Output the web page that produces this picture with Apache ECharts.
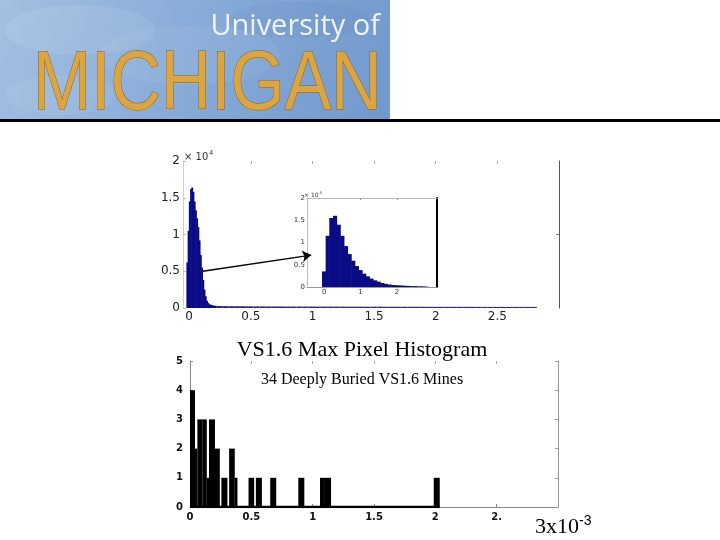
<!DOCTYPE html>
<html>
<head>
<meta charset="utf-8">
<script src="https://cdn.jsdelivr.net/npm/echarts@6/dist/echarts.min.js"></script>
<style>
html,body{margin:0;padding:0;background:#fff;}
#chart{width:720px;height:540px;}
</style>
</head>
<body>
<div id="chart"></div>
<script>
// ---------- DATA ----------
// Main histogram (x in units of 1e-3, counts in units of 1e4)
var mainPeakStart = -0.02;
var mainPeakWidth = 0.01;
var mainPeakCounts = [0.62, 1.05, 1.45, 1.62, 1.64, 1.58, 1.45, 1.33, 1.22, 1.10, 0.92, 0.72, 0.55, 0.38, 0.25, 0.16, 0.10, 0.07, 0.05, 0.045, 0.04, 0.035, 0.03, 0.03];
var mainTailStart = 0.22;
var mainTailWidth = 0.05;
var mainTailCounts = [0.028, 0.026, 0.025, 0.024, 0.024, 0.023, 0.022, 0.022, 0.021, 0.021,
                      0.021, 0.020, 0.020, 0.020, 0.020, 0.020, 0.019, 0.019, 0.019, 0.019,
                      0.019, 0.018, 0.018, 0.018, 0.018, 0.018, 0.018, 0.017, 0.017, 0.017,
                      0.017, 0.017, 0.017, 0.017, 0.016, 0.016, 0.016, 0.016, 0.016, 0.016,
                      0.016, 0.016, 0.015, 0.015, 0.015, 0.015, 0.015, 0.015, 0.015, 0.015,
                      0.015, 0.015];
var mainTickValues = [0, 0.5, 1, 1.5, 2, 2.5];

// Inset histogram (zoomed view, x in units of 1e-4)
var insetBinStart = -0.05;
var insetBinWidth = 0.1;
var insetCounts = [0.35, 1.15, 1.55, 1.60, 1.40, 1.15, 0.92, 0.74, 0.59, 0.47,
                   0.38, 0.30, 0.24, 0.19, 0.15, 0.12, 0.09, 0.07, 0.055, 0.045,
                   0.04, 0.035, 0.03, 0.025, 0.02, 0.02, 0.015, 0.015, 0.01];
var insetTickValues = [0, 1, 2];

// Arrow annotation (main axes coordinates)
var arrowFrom = [0.11, 0.50];
var arrowTo = [0.99, 0.72];

// Bottom histogram: 34 deeply buried VS1.6 mines (x in units of 1e-3)
var mineBinLeft  = [0.000, 0.041, 0.060, 0.100, 0.137, 0.155, 0.204, 0.256, 0.319, 0.365, 0.477, 0.537, 0.654, 0.883, 1.060, 1.100, 1.987];
var mineBinRight = [0.041, 0.060, 0.100, 0.137, 0.155, 0.204, 0.243, 0.305, 0.365, 0.387, 0.523, 0.586, 0.703, 0.932, 1.100, 1.150, 2.036];
var mineCounts   = [4, 2, 3, 3, 1, 3, 2, 1, 2, 1, 1, 1, 1, 1, 1, 1, 1];
var mineTickValues = [0, 0.5, 1, 1.5, 2, 2.5];
var mineTickLabels = ['0', '0.5', '1', '1.5', '2', '2.'];

// ---------- BUILD ----------
function binsFrom(start, width, counts) {
  var out = [];
  for (var i = 0; i < counts.length; i++) {
    out.push([start + i * width, start + (i + 1) * width, counts[i]]);
  }
  return out;
}
function edgesFrom(lefts, rights, counts) {
  var out = [];
  for (var i = 0; i < counts.length; i++) out.push([lefts[i], rights[i], counts[i]]);
  return out;
}
function barRenderer(color, pad) {
  return function (params, api) {
    var p0 = api.coord([api.value(0), api.value(2)]);
    var p1 = api.coord([api.value(1), 0]);
    return {
      type: 'rect',
      shape: { x: p0[0] - pad, y: p0[1], width: p1[0] - p0[0] + 2 * pad, height: p1[1] - p0[1] },
      style: { fill: color }
    };
  };
}

var navy = '#0b0b86';
var chart = echarts.init(document.getElementById('chart'));
var axisFont = 'DejaVu Sans';

var option = {
  backgroundColor: '#ffffff',
  animation: false,
  grid: [
    { left: 183, top: 161, width: 376, height: 147 },
    { left: 307, top: 198, width: 130, height: 89, show: true, backgroundColor: '#ffffff', borderWidth: 0, z: 3 },
    { left: 190, top: 361, width: 368, height: 146 }
  ],
  xAxis: [
    { gridIndex: 0, type: 'value', min: -0.05, max: 3, position: 'bottom',
      axisLine: { show: false, onZero: false }, axisTick: { show: false }, splitLine: { show: false },
      axisLabel: { customValues: mainTickValues, fontSize: 12, color: '#222', margin: 3, fontFamily: axisFont } },
    { gridIndex: 0, type: 'value', min: -0.05, max: 3, position: 'top',
      axisLine: { show: false, onZero: false }, splitLine: { show: false }, axisLabel: { show: false },
      axisTick: { show: true, inside: true, length: 3, customValues: [0.5, 1, 1.5, 2, 2.5], lineStyle: { color: '#aaa' } } },
    { gridIndex: 1, type: 'value', min: -0.47, max: 3.1, position: 'bottom', z: 4,
      axisLine: { show: true, onZero: false, lineStyle: { color: '#999' } }, axisTick: { show: false }, splitLine: { show: false },
      axisLabel: { customValues: insetTickValues, fontSize: 7, color: '#333', margin: 2, fontFamily: axisFont } },
    { gridIndex: 1, type: 'value', min: -0.47, max: 3.1, position: 'top', z: 4,
      axisLine: { show: true, onZero: false, lineStyle: { color: '#bbb' } }, splitLine: { show: false }, axisLabel: { show: false },
      axisTick: { show: true, inside: true, length: 2, customValues: [1, 2], lineStyle: { color: '#999' } } },
    { gridIndex: 2, type: 'value', min: 0, max: 3, position: 'bottom',
      axisLine: { show: true, onZero: false, lineStyle: { color: '#888' } }, splitLine: { show: false },
      axisTick: { show: true, inside: true, length: 3, customValues: mineTickValues, lineStyle: { color: '#888' } },
      axisLabel: { customValues: mineTickValues, fontSize: 10, fontWeight: 'bold', color: '#111', margin: 5, fontFamily: axisFont,
        formatter: function (v) { var i = mineTickValues.indexOf(v); return i >= 0 ? mineTickLabels[i] : ''; } } },
    { gridIndex: 2, type: 'value', min: 0, max: 3, position: 'top',
      axisLine: { show: false, onZero: false }, splitLine: { show: false }, axisLabel: { show: false },
      axisTick: { show: true, inside: true, length: 3, customValues: [0.5, 1, 1.5, 2, 2.5], lineStyle: { color: '#aaa' } } }
  ],
  yAxis: [
    { gridIndex: 0, type: 'value', min: 0, max: 2, interval: 0.5, position: 'left',
      axisLine: { show: true, onZero: false, lineStyle: { color: '#d0d0d0' } }, splitLine: { show: false },
      axisTick: { show: true, inside: true, length: 3, lineStyle: { color: '#bbb' } },
      axisLabel: { fontSize: 12, color: '#222', margin: 3, fontFamily: axisFont } },
    { gridIndex: 0, type: 'value', min: 0, max: 2, interval: 0.5, position: 'right',
      axisLine: { show: true, onZero: false, lineStyle: { color: '#555' } }, splitLine: { show: false }, axisLabel: { show: false },
      axisTick: { show: true, inside: true, length: 3, customValues: [1], lineStyle: { color: '#777' } } },
    { gridIndex: 1, type: 'value', min: 0, max: 2, interval: 0.5, position: 'left', z: 4,
      axisLine: { show: true, onZero: false, lineStyle: { color: '#bbb' } }, splitLine: { show: false }, axisTick: { show: false },
      axisLabel: { fontSize: 7, color: '#333', margin: 2, fontFamily: axisFont } },
    { gridIndex: 1, type: 'value', min: 0, max: 2, position: 'right', z: 4,
      axisLine: { show: true, onZero: false, lineStyle: { color: '#000', width: 2 } }, splitLine: { show: false },
      axisTick: { show: false }, axisLabel: { show: false } },
    { gridIndex: 2, type: 'value', min: 0, max: 5, interval: 1, position: 'left',
      axisLine: { show: true, onZero: false, lineStyle: { color: '#888' } }, splitLine: { show: false },
      axisTick: { show: true, inside: true, length: 3, lineStyle: { color: '#888' } },
      axisLabel: { fontSize: 10, fontWeight: 'bold', color: '#111', margin: 7, fontFamily: axisFont } },
    { gridIndex: 2, type: 'value', min: 0, max: 5, interval: 1, position: 'right',
      axisLine: { show: true, onZero: false, lineStyle: { color: '#999' } }, splitLine: { show: false }, axisLabel: { show: false },
      axisTick: { show: true, inside: true, length: 3, lineStyle: { color: '#999' } } }
  ],
  series: [
    { type: 'custom', xAxisIndex: 0, yAxisIndex: 0, renderItem: barRenderer(navy, 0.3),
      encode: { x: [0, 1], y: 2 }, data: binsFrom(mainPeakStart, mainPeakWidth, mainPeakCounts) },
    { type: 'custom', xAxisIndex: 0, yAxisIndex: 0, renderItem: barRenderer('#2a2a8c', 0),
      encode: { x: [0, 1], y: 2 }, data: binsFrom(mainTailStart, mainTailWidth, mainTailCounts) },
    { type: 'custom', xAxisIndex: 2, yAxisIndex: 2, z: 5, renderItem: barRenderer(navy, 0.3),
      encode: { x: [0, 1], y: 2 }, data: binsFrom(insetBinStart, insetBinWidth, insetCounts) },
    { type: 'lines', coordinateSystem: 'cartesian2d', xAxisIndex: 0, yAxisIndex: 0, z: 10,
      symbol: ['none', 'arrow'], symbolSize: 9,
      lineStyle: { color: '#000', width: 1.3, opacity: 1, curveness: 0 },
      data: [{ coords: [arrowFrom, arrowTo] }] },
    { type: 'line', xAxisIndex: 4, yAxisIndex: 4, symbol: 'none', z: 3,
      lineStyle: { color: '#000', width: 2.5 },
      data: [[mineBinLeft[0], 0], [mineBinRight[mineBinRight.length - 1], 0]] },
    { type: 'custom', xAxisIndex: 4, yAxisIndex: 4, renderItem: barRenderer('#000', 0),
      encode: { x: [0, 1], y: 2 }, data: edgesFrom(mineBinLeft, mineBinRight, mineCounts) }
  ],
  graphic: [
    // logo background
    { type: 'rect', shape: { x: 0, y: 0, width: 390, height: 119 }, z: 1,
      style: { fill: { type: 'linear', x: 0, y: 0, x2: 1, y2: 1, colorStops: [
        { offset: 0, color: '#a4c0e2' }, { offset: 0.45, color: '#89acd8' }, { offset: 1, color: '#7199cc' } ] } } },
    { type: 'ellipse', shape: { cx: 80, cy: 30, rx: 75, ry: 25 }, z: 1, style: { fill: 'rgba(255,255,255,0.08)' } },
    { type: 'ellipse', shape: { cx: 190, cy: 55, rx: 90, ry: 30 }, z: 1, style: { fill: 'rgba(255,255,255,0.05)' } },
    { type: 'ellipse', shape: { cx: 300, cy: 20, rx: 70, ry: 18 }, z: 1, style: { fill: 'rgba(60,100,170,0.07)' } },
    { type: 'ellipse', shape: { cx: 60, cy: 95, rx: 55, ry: 20 }, z: 1, style: { fill: 'rgba(255,255,255,0.06)' } },
    { type: 'text', x: 380, y: 27, z: 2,
      style: { text: 'University of', font: '29px "Open Sans"', fill: '#eef2f8', textAlign: 'right', textVerticalAlign: 'middle',
        shadowColor: 'rgba(10,20,60,0.7)', shadowBlur: 2, shadowOffsetX: 1, shadowOffsetY: 1 } },
    { type: 'text', x: 33, y: 86, scaleX: 0.83, z: 2,
      style: { text: 'MICHIGAN', font: '84px "Liberation Sans"', textAlign: 'left', textVerticalAlign: 'middle',
        fill: '#dba542', stroke: '#8a5e1a', lineWidth: 1,
        shadowColor: 'rgba(30,20,0,0.55)', shadowBlur: 3, shadowOffsetX: 2, shadowOffsetY: 2 } },
    // rule line
    { type: 'rect', shape: { x: 0, y: 119, width: 720, height: 3 }, z: 2, style: { fill: '#000' } },
    // exponent labels
    { type: 'text', x: 184, y: 157, z: 5,
      style: { text: '× 10{s|4}', font: '10px "DejaVu Sans"', fill: '#333', textVerticalAlign: 'middle',
        rich: { s: { fontSize: 7, verticalAlign: 'top', padding: [0, 0, 8, 1] } } } },
    { type: 'text', x: 304, y: 195, z: 6,
      style: { text: '× 10{s|4}', font: '6px "DejaVu Sans"', fill: '#333', textVerticalAlign: 'middle',
        rich: { s: { fontSize: 4, padding: [0, 0, 5, 1] } } } },
    // titles
    { type: 'text', x: 362, y: 350, z: 5,
      style: { text: 'VS1.6 Max Pixel Histogram', font: '22px "Liberation Serif"', fill: '#000', textAlign: 'center', textVerticalAlign: 'middle' } },
    { type: 'text', x: 362, y: 380, z: 5,
      style: { text: '34 Deeply Buried VS1.6 Mines', font: '16px "Liberation Serif"', fill: '#000', textAlign: 'center', textVerticalAlign: 'middle' } },
    { type: 'text', x: 535, y: 527, z: 5,
      style: { text: '3x10{s|-3}', font: '22px "Liberation Serif"', fill: '#000', textAlign: 'left', textVerticalAlign: 'middle',
        rich: { s: { fontSize: 14, padding: [0, 0, 12, 0] } } } }
  ]
};
chart.setOption(option);
</script>
</body>
</html>
